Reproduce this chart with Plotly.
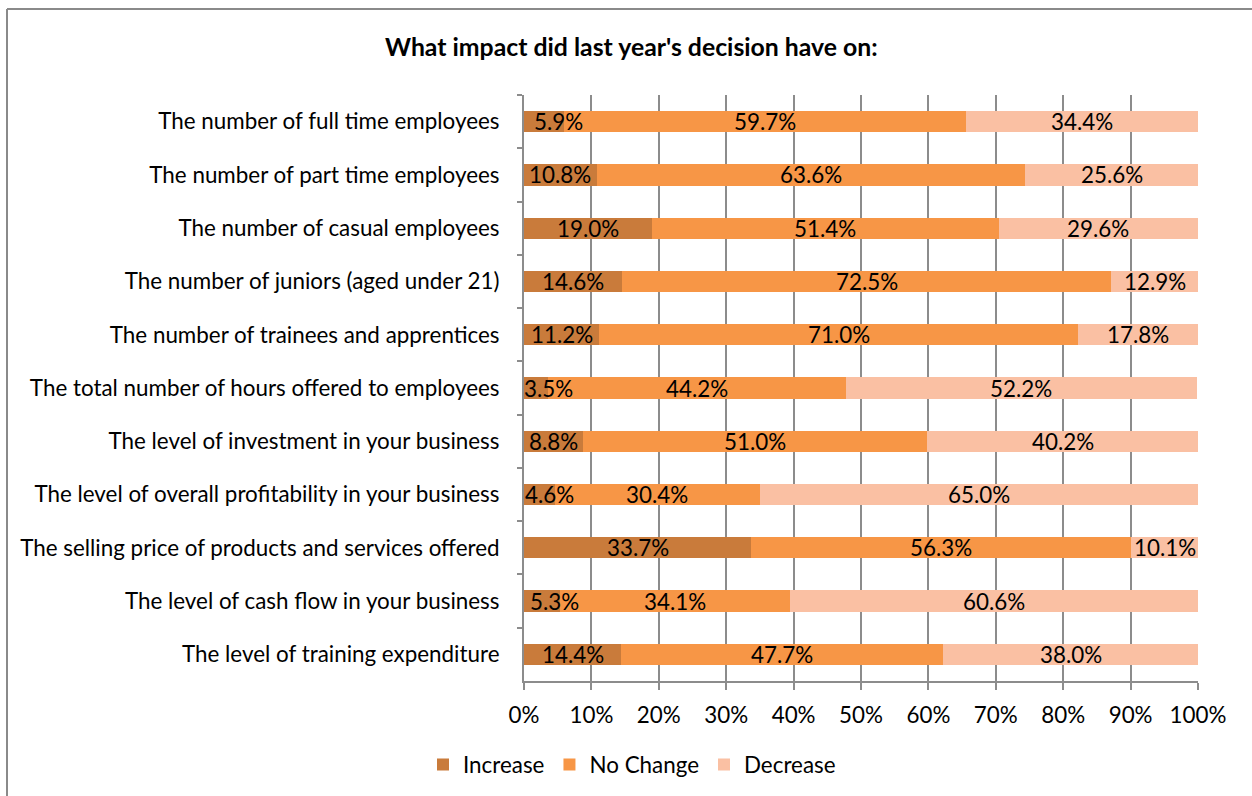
import plotly.graph_objects as go

# Survey responses: share of businesses reporting each outcome (%)
categories = [
    "The number of full time employees",
    "The number of part time employees",
    "The number of casual employees",
    "The number of juniors (aged under 21)",
    "The number of trainees and apprentices",
    "The total number of hours offered to employees",
    "The level of investment in your business",
    "The level of overall profitability in your business",
    "The selling price of products and services offered",
    "The level of cash flow in your business",
    "The level of training expenditure",
]
increase = [5.9, 10.8, 19.0, 14.6, 11.2, 3.5, 8.8, 4.6, 33.7, 5.3, 14.4]
no_change = [59.7, 63.6, 51.4, 72.5, 71.0, 44.2, 51.0, 30.4, 56.3, 34.1, 47.7]
decrease = [34.4, 25.6, 29.6, 12.9, 17.8, 52.2, 40.2, 65.0, 10.1, 60.6, 38.0]
x_ticks = [0, 10, 20, 30, 40, 50, 60, 70, 80, 90, 100]

series = [
    ("Increase", increase, "#C97B3B"),
    ("No Change", no_change, "#F79646"),
    ("Decrease", decrease, "#FAC0A3"),
]

FONT = "Lato"
FS = 22.4
GRID = "#8C8C8C"

L, R, T, B = 524, 54, 95, 115
W, H = 1252, 796
pw, ph = W - L - R, H - T - B


def px_x(px):
    return (px - L) / pw


def px_y(py):
    return (H - B - py) / ph


fig = go.Figure()
for name, vals, color in series:
    fig.add_trace(go.Bar(
        name=name, y=categories, x=vals, orientation="h",
        marker=dict(color=color, line=dict(width=0)),
        hoverinfo="x+name",
    ))

# Segment value labels, centred on each segment (kept clear of the left axis)
annotations = []
for i, cat in enumerate(categories):
    start = 0.0
    for k, (name, vals, color) in enumerate(series):
        v = vals[i]
        mid = start + v / 2
        if k == 0 and v < 7.5:
            mid = max(3.7, v - 0.8)
        annotations.append(dict(
            x=mid, y=cat, xref="x", yref="y", text=f"{v:.1f}%",
            showarrow=False, font=dict(family=FONT, size=FS, color="#000000"),
            xanchor="center", yanchor="middle",
        ))
        start += v

annotations.append(dict(
    x=px_x(631), y=px_y(47), xref="paper", yref="paper",
    text="<b>What impact did last year's decision have on:</b>",
    showarrow=False, xanchor="center", yanchor="middle",
    font=dict(family=FONT, size=24.8, color="#000000"),
))

fig.update_layout(
    width=W, height=H,
    margin=dict(l=L, r=R, t=T, b=B, autoexpand=False),
    barmode="stack", bargap=0.6,
    paper_bgcolor="white", plot_bgcolor="white",
    font=dict(family=FONT, size=FS, color="#000000"),
    showlegend=True,
    legend=dict(
        orientation="h", x=px_x(632), y=px_y(765), xanchor="center", yanchor="middle",
        font=dict(family=FONT, size=FS), traceorder="normal",
        itemwidth=30, bgcolor="rgba(0,0,0,0)",
    ),
    annotations=annotations,
    shapes=[
        dict(type="line", xref="paper", yref="paper", x0=px_x(7), x1=px_x(1260),
             y0=px_y(9), y1=px_y(9), line=dict(color="#8A8A8A", width=2)),
        dict(type="line", xref="paper", yref="paper", x0=px_x(7), x1=px_x(7),
             y0=px_y(9), y1=px_y(800), line=dict(color="#8A8A8A", width=2)),
    ],
    xaxis=dict(
        range=[0, 100], tickvals=x_ticks, ticktext=[f"{t}%" for t in x_ticks],
        showgrid=True, gridcolor=GRID, gridwidth=2,
        showline=True, linecolor=GRID, linewidth=2,
        ticks="outside", ticklen=7, tickcolor=GRID, tickwidth=2,
        tickfont=dict(family=FONT, size=FS), ticklabelstandoff=6,
        zeroline=False, fixedrange=True,
    ),
    yaxis=dict(
        categoryorder="array", categoryarray=categories, autorange="reversed",
        showline=True, linecolor=GRID, linewidth=2,
        ticks="outside", ticklen=5, tickcolor=GRID, tickwidth=2, tickson="boundaries",
        showgrid=False, tickfont=dict(family=FONT, size=FS), ticklabelstandoff=18,
        fixedrange=True,
    ),
)

fig.write_html("out.html")
